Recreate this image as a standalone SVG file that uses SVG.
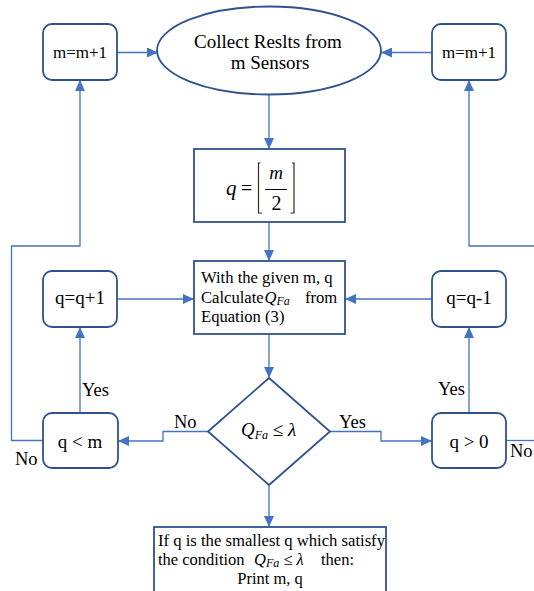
<svg xmlns="http://www.w3.org/2000/svg" width="534" height="591" viewBox="0 0 534 591" font-family="'Liberation Serif','Times New Roman',serif">
<defs>
<marker id="ah" markerUnits="userSpaceOnUse" markerWidth="12" markerHeight="10" refX="11" refY="5" orient="auto">
<path d="M0,0 L11,5 L0,10 Z" fill="#4472C4"/>
</marker>
<style>
.node{fill:#fff;stroke:#2F528F;stroke-width:1.8}
.conn{fill:none;stroke:#4472C4;stroke-width:1.3}
.arr{marker-end:url(#ah)}
text{font-family:"Liberation Serif","Times New Roman",serif;fill:#000}
.t17{font-size:17px}
.t19{font-size:19px}
.t166{font-size:16.6px}
.lbl{font-size:18.5px}
.it{font-style:italic}
.sub{font-style:italic;font-size:12px}
</style>
</defs>
<rect width="534" height="591" fill="#fff"/>

<g id="connectors">
<line class="conn arr" x1="117" y1="52.5" x2="158" y2="52.5"/>
<line class="conn arr" x1="432" y1="52.5" x2="381" y2="52.5"/>
<line class="conn arr" x1="269" y1="94.5" x2="269" y2="149"/>
<line class="conn arr" x1="269" y1="222" x2="269" y2="261"/>
<line class="conn arr" x1="117" y1="299" x2="194" y2="299"/>
<line class="conn arr" x1="432" y1="299" x2="345" y2="299"/>
<line class="conn arr" x1="269" y1="334" x2="269" y2="378"/>
<polyline class="conn arr" points="208,431.5 163,431.5 163,441 118,441"/>
<polyline class="conn arr" points="330,431.5 381,431.5 381,441 432,441"/>
<line class="conn arr" x1="269" y1="485" x2="269" y2="527"/>
<line class="conn arr" x1="80" y1="413" x2="80" y2="327"/>
<line class="conn arr" x1="469" y1="413" x2="469" y2="327"/>
<polyline class="conn arr" points="43,440.5 11.5,440.5 11.5,246 80,246 80,80"/>
<polyline class="conn arr" points="534,246 469,246 469,80"/>
<line class="conn" x1="506" y1="440.5" x2="534" y2="440.5"/>
<text class="lbl" x="174" y="428">No</text>
<text class="lbl" x="339" y="428">Yes</text>
<text class="lbl" x="82" y="396">Yes</text>
<text class="lbl" x="438" y="395">Yes</text>
<text class="lbl" x="15" y="465">No</text>
<text class="lbl" x="510" y="457">No</text>
</g>

<g id="collect">
<ellipse class="node" cx="269" cy="50.5" rx="112" ry="44"/>
<text class="t19" x="268" y="47.5" text-anchor="middle">Collect Reslts from</text>
<text class="t19" x="270" y="69" text-anchor="middle">m Sensors</text>
</g>

<g id="inc-m-left">
<rect class="node" x="43" y="24" width="74" height="56" rx="9"/>
<text class="t17" x="80" y="58" text-anchor="middle">m=m+1</text>
</g>

<g id="inc-m-right">
<rect class="node" x="432" y="24" width="74" height="56" rx="9"/>
<text class="t17" x="469" y="58" text-anchor="middle">m=m+1</text>
</g>

<g id="q-init">
<rect class="node" x="194" y="149" width="151" height="73"/>
<text class="it" font-size="21" x="226" y="195">q</text>
<text font-size="20" x="241" y="195">=</text>
<polyline points="260.5,163 258.5,163 258.5,213 262,213" fill="none" stroke="#3a2a1a" stroke-width="1.2"/>
<polyline points="292,163 294,163 294,213 290.5,213" fill="none" stroke="#3a2a1a" stroke-width="1.2"/>
<line x1="265" y1="189.5" x2="287" y2="189.5" stroke="#000" stroke-width="1"/>
<text class="it" font-size="19" x="276" y="179" text-anchor="middle">m</text>
<text font-size="20" x="276.5" y="210" text-anchor="middle">2</text>
</g>

<g id="calc">
<rect class="node" x="194" y="261" width="151" height="73"/>
<text class="t166" x="201" y="283">With the given m, q</text>
<text class="t166" x="201" y="302.5">Calculate<tspan class="it" x="264.5">Q</tspan><tspan class="sub" font-size="11" dy="2">Fa</tspan><tspan x="305" dy="-2">from</tspan></text>
<text class="t166" x="201" y="321.5">Equation (3)</text>
</g>

<g id="inc-q">
<rect class="node" x="43" y="271" width="74" height="56" rx="9"/>
<text class="t19" x="80" y="303.5" text-anchor="middle">q=q+1</text>
</g>

<g id="dec-q">
<rect class="node" x="432" y="271" width="74" height="56" rx="9"/>
<text class="t19" x="469" y="303.5" text-anchor="middle">q=q-1</text>
</g>

<g id="decision">
<polygon class="node" points="269,378 330,431.5 269,485 208,431.5"/>
<text font-size="19" x="241" y="436"><tspan class="it">Q</tspan><tspan class="sub" font-size="13" dy="3">Fa</tspan><tspan dy="-3"> ≤ </tspan><tspan class="it">λ</tspan></text>
</g>

<g id="q-lt-m">
<rect class="node" x="43" y="413" width="75" height="55" rx="9"/>
<text class="t19" x="80" y="448" text-anchor="middle">q &lt; m</text>
</g>

<g id="q-gt-0">
<rect class="node" x="432" y="413" width="74" height="55" rx="9"/>
<text class="t19" x="469" y="448" text-anchor="middle">q &gt; 0</text>
</g>

<g id="output">
<rect class="node" x="154" y="527" width="232" height="75"/>
<text font-size="16.5" x="158" y="546" textLength="227" lengthAdjust="spacingAndGlyphs">If q is the smallest q which satisfy</text>
<text font-size="16.5" x="158" y="565">the condition <tspan class="it" x="254">Q</tspan><tspan class="sub" font-size="11" dy="2">Fa</tspan><tspan dy="-2"> ≤ </tspan><tspan class="it">λ</tspan><tspan x="321">then:</tspan></text>
<text font-size="16.5" x="270" y="584" text-anchor="middle">Print m, q</text>
</g>
</svg>
